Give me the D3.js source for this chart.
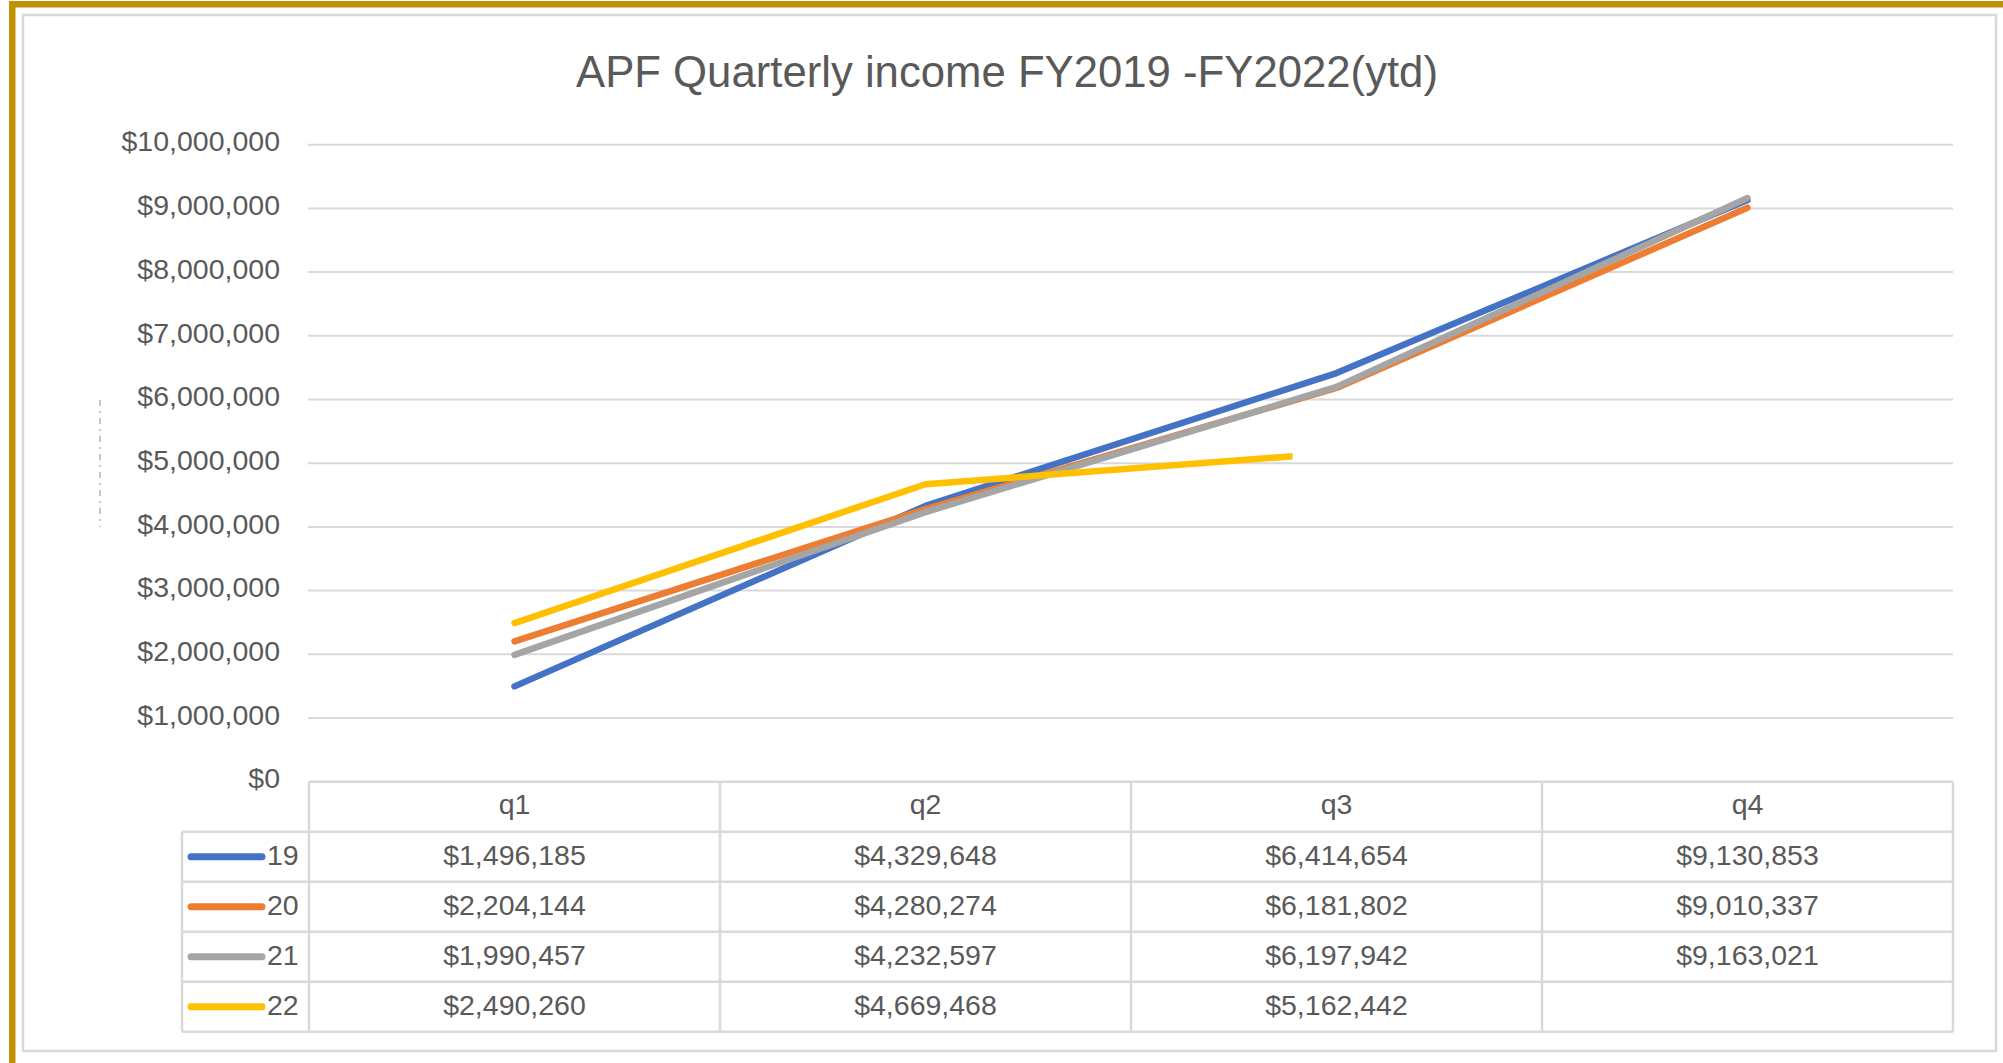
<!DOCTYPE html>
<html>
<head>
<meta charset="utf-8">
<script src="https://cdn.jsdelivr.net/npm/d3@7"></script>
<style>
  html, body { margin: 0; padding: 0; background: #fff; }
  svg { display: block; }
  text { font-family: "Liberation Sans", Arial, sans-serif; fill: #595959; }
</style>
</head>
<body>
<svg id="chart" width="2003" height="1063"></svg>
<script>
// ---- data ----
const title = "APF Quarterly income FY2019 -FY2022(ytd)";
const quarters = ["q1", "q2", "q3", "q4"];
const seriesNames = ["19", "20", "21", "22"];
const fy19 = [1496185, 4329648, 6414654, 9130853];
const fy20 = [2204144, 4280274, 6181802, 9010337];
const fy21 = [1990457, 4232597, 6197942, 9163021];
const fy22 = [2490260, 4669468, 5162442, null];
const seriesColors = ["#4472C4", "#ED7D31", "#A5A5A5", "#FFC000"];
const yTicks = [0, 1000000, 2000000, 3000000, 4000000, 5000000, 6000000, 7000000, 8000000, 9000000, 10000000];

const seriesValues = [fy19, fy20, fy21, fy22];
const series = seriesNames.map((n, i) => ({ name: n, color: seriesColors[i], values: seriesValues[i] }));

// ---- layout ----
const W = 2003, H = 1063;
const plotLeft = 309, plotRight = 1953, plotTop = 144.7, plotBottom = 781.7;
const rowH = 50;
const legendColLeft = 182;
const grid = "#D9D9D9";
const fs = 28.5;

const svg = d3.select("#chart");

// outer frame
svg.append("rect").attr("x", 9).attr("y", 1).attr("width", W - 9).attr("height", 6.5).attr("fill", "#BF9000");
svg.append("rect").attr("x", 9).attr("y", 1).attr("width", 6.5).attr("height", H - 1).attr("fill", "#BF9000");
svg.append("rect").attr("x", 23).attr("y", 15).attr("width", 1973).attr("height", 1036)
  .attr("fill", "#fff").attr("stroke", grid).attr("stroke-width", 2.5);

// faint axis-title artifact
svg.append("line").attr("x1", 100).attr("x2", 100).attr("y1", 400).attr("y2", 527)
  .attr("stroke", "#8c8c8c").attr("stroke-width", 1).attr("stroke-dasharray", "6,5,2,5");

// title
svg.append("text").attr("x", 1007).attr("y", 87).attr("text-anchor", "middle")
  .attr("font-size", 43.7).text(title);

// scales
const x = d3.scaleBand().domain(quarters).range([plotLeft, plotRight]).padding(0);
const y = d3.scaleLinear().domain([0, 10000000]).range([plotBottom, plotTop]);
const cx = q => x(q) + x.bandwidth() / 2;

// gridlines
svg.append("g").selectAll("line").data(yTicks.filter(d => d > 0)).join("line")
  .attr("x1", plotLeft - 1).attr("x2", plotRight)
  .attr("y1", d => y(d)).attr("y2", d => y(d))
  .attr("stroke", grid).attr("stroke-width", 2);

// y axis labels
const yAxis = d3.axisLeft(y).tickValues(yTicks).tickSize(0).tickPadding(0).tickFormat(d3.format("$,"));
const gy = svg.append("g").attr("transform", "translate(280,0)").call(yAxis);
gy.select(".domain").remove();
gy.selectAll("text").attr("font-size", fs).attr("fill", "#595959")
  .attr("font-family", "Liberation Sans, Arial, sans-serif").attr("dy", "0.22em");

// data table
const tbl = svg.append("g");
const tableTop = plotBottom;
const headerBottom = tableTop + rowH;
const tableBottom = headerBottom + rowH * seriesNames.length;
tbl.append("line").attr("x1", plotLeft).attr("x2", plotRight).attr("y1", tableTop).attr("y2", tableTop)
  .attr("stroke", grid).attr("stroke-width", 2.5);
seriesNames.forEach((s, i) => {
  const yy = headerBottom + rowH * i;
  tbl.append("line").attr("x1", legendColLeft).attr("x2", plotRight).attr("y1", yy).attr("y2", yy)
    .attr("stroke", grid).attr("stroke-width", 2.5);
});
tbl.append("line").attr("x1", legendColLeft).attr("x2", plotRight).attr("y1", tableBottom).attr("y2", tableBottom)
  .attr("stroke", grid).attr("stroke-width", 2.5);
tbl.append("line").attr("x1", legendColLeft).attr("x2", legendColLeft).attr("y1", headerBottom).attr("y2", tableBottom)
  .attr("stroke", grid).attr("stroke-width", 2.5);
quarters.forEach(q => {
  tbl.append("line").attr("x1", x(q)).attr("x2", x(q)).attr("y1", tableTop).attr("y2", tableBottom)
    .attr("stroke", grid).attr("stroke-width", 2.5);
});
tbl.append("line").attr("x1", plotRight).attr("x2", plotRight).attr("y1", tableTop).attr("y2", tableBottom)
  .attr("stroke", grid).attr("stroke-width", 2.5);

// header text
tbl.selectAll("text.hdr").data(quarters).join("text").attr("class", "hdr")
  .attr("x", d => cx(d)).attr("y", tableTop + rowH / 2).attr("dy", "0.25em")
  .attr("text-anchor", "middle").attr("font-size", fs).text(d => d);

const fmt = d3.format("$,");
series.forEach((s, i) => {
  const rowMid = headerBottom + rowH * i + rowH / 2;
  tbl.append("line").attr("x1", 191).attr("x2", 262).attr("y1", rowMid).attr("y2", rowMid)
    .attr("stroke", s.color).attr("stroke-width", 7).attr("stroke-linecap", "round");
  tbl.append("text").attr("x", 267).attr("y", rowMid).attr("dy", "0.28em")
    .attr("font-size", fs).text(s.name);
  quarters.forEach((q, j) => {
    const v = s.values[j];
    if (v == null) return;
    tbl.append("text").attr("x", cx(q)).attr("y", rowMid).attr("dy", "0.28em")
      .attr("text-anchor", "middle").attr("font-size", fs).text(fmt(v));
  });
});

// clip for the partially shown last series
svg.append("defs").append("clipPath").attr("id", "clip22")
  .append("rect").attr("x", 0).attr("y", 0).attr("width", cx("q3") - 44).attr("height", H);

// lines
const line = d3.line()
  .defined(d => d.v != null)
  .x(d => cx(d.q))
  .y(d => y(d.v));

series.forEach((s, i) => {
  const pts = quarters.map((q, j) => ({ q: q, v: s.values[j] }));
  svg.append("path").datum(pts)
    .attr("d", line)
    .attr("fill", "none")
    .attr("stroke", s.color)
    .attr("stroke-width", 6.5)
    .attr("stroke-linecap", "round")
    .attr("stroke-linejoin", "round")
    .attr("clip-path", s.name === "22" ? "url(#clip22)" : null);
});
</script>
</body>
</html>
